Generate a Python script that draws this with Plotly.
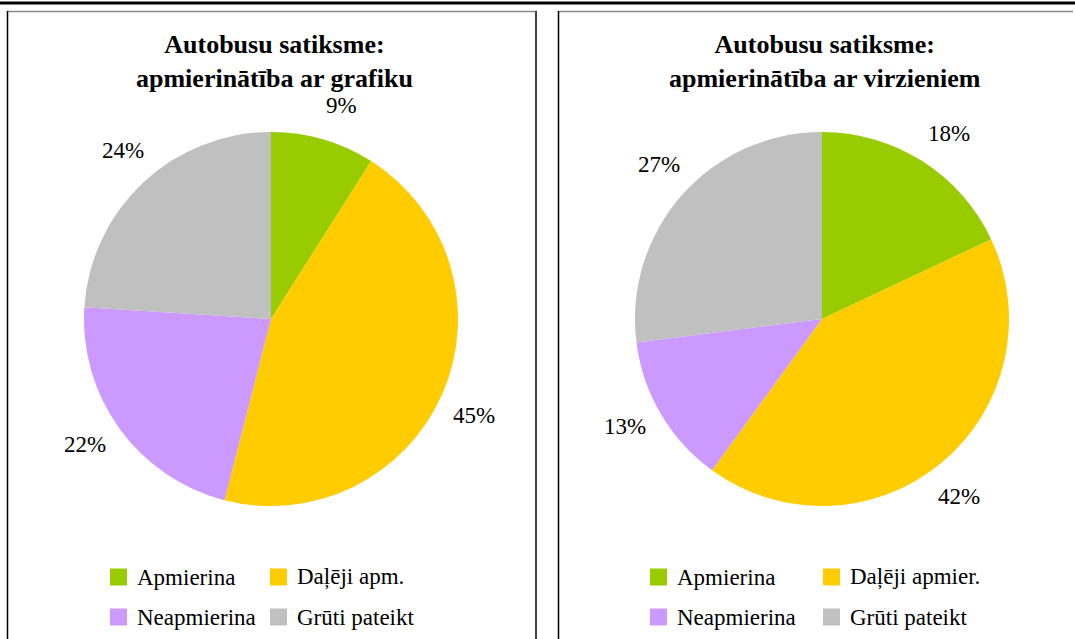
import math
import plotly.graph_objects as go

W, H = 1075, 639

categories_left = ["Apmierina", "Daļēji apm.", "Neapmierina", "Grūti pateikt"]
values_left = [9, 45, 22, 24]
categories_right = ["Apmierina", "Daļēji apmier.", "Neapmierina", "Grūti pateikt"]
values_right = [18, 42, 13, 27]
colors = ["#99CC00", "#FFCC00", "#CC99FF", "#C0C0C0"]
title_left = "Autobusu satiksme:<br>apmierinātība ar grafiku"
title_right = "Autobusu satiksme:<br>apmierinātība ar virzieniem"

SERIF = "Liberation Serif"

def px(x):
    return x / W

def py(y):
    return 1 - y / H

R = 187
panels = [
    dict(cx=271, cy=319, cats=categories_left, vals=values_left, title=title_left, tx=274,
         sq=[110, 270]),
    dict(cx=822, cy=319, cats=categories_right, vals=values_right, title=title_right, tx=825,
         sq=[650, 823]),
]

fig = go.Figure()
annotations = []
shapes = []

for p in panels:
    cx, cy = p["cx"], p["cy"]
    fig.add_trace(go.Pie(
        labels=p["cats"], values=p["vals"], sort=False, direction="clockwise", rotation=0,
        marker=dict(colors=colors, line=dict(width=0)),
        textinfo="none", hoverinfo="label+percent", showlegend=False,
        domain=dict(x=[px(cx - R), px(cx + R)], y=[py(cy + R), py(cy - R)]),
    ))
    total = sum(p["vals"])
    cum = 0
    for v in p["vals"]:
        mid = (cum + v / 2) / total * 2 * math.pi + math.radians(2)
        cum += v
        d = 1.2 * R
        lx = cx + d * math.sin(mid)
        ly = cy - d * math.cos(mid)
        annotations.append(dict(
            x=px(lx), y=py(ly), xref="paper", yref="paper", showarrow=False,
            text=f"{round(v / total * 100)}%", xanchor="center", yanchor="middle",
            font=dict(family=SERIF, size=23, color="black"),
        ))
    annotations.append(dict(
        x=px(p["tx"]), y=py(61), xref="paper", yref="paper", showarrow=False,
        text=f"<b>{p['title']}</b>", xanchor="center", yanchor="middle",
        font=dict(family=SERIF, size=26, color="black"),
    ))
    # legend (2x2)
    rows = [577, 617]
    for i, (cat, col) in enumerate(zip(p["cats"], colors)):
        r, c = divmod(i, 2)
        sx = p["sq"][c]
        ry = rows[r]
        shapes.append(dict(type="rect", xref="paper", yref="paper",
                           x0=px(sx), x1=px(sx + 17), y0=py(ry + 8.5), y1=py(ry - 8.5),
                           fillcolor=col, line=dict(width=0)))
        annotations.append(dict(
            x=px(sx + 25), y=py(ry), xref="paper", yref="paper", showarrow=False,
            text=cat, xanchor="left", yanchor="middle",
            font=dict(family=SERIF, size=23, color="black"),
        ))

# top rule
shapes.append(dict(type="line", xref="paper", yref="paper", x0=0, x1=1, y0=py(3), y1=py(3),
                   line=dict(color="black", width=3)))
# left panel frame
shapes.append(dict(type="line", xref="paper", yref="paper", x0=px(7), x1=px(537), y0=py(11.5), y1=py(11.5),
                   line=dict(color="#8c8c8c", width=1.5)))
shapes.append(dict(type="line", xref="paper", yref="paper", x0=px(7.5), x1=px(7.5), y0=py(11), y1=py(H + 5),
                   line=dict(color="black", width=1.5)))
shapes.append(dict(type="line", xref="paper", yref="paper", x0=px(536), x1=px(536), y0=py(11), y1=py(H + 5),
                   line=dict(color="#404040", width=2)))
# right panel frame
shapes.append(dict(type="line", xref="paper", yref="paper", x0=px(558), x1=px(1073), y0=py(11.5), y1=py(11.5),
                   line=dict(color="#8c8c8c", width=1.5)))
shapes.append(dict(type="line", xref="paper", yref="paper", x0=px(558.5), x1=px(558.5), y0=py(11), y1=py(H + 5),
                   line=dict(color="black", width=1.5)))

fig.update_layout(
    width=W, height=H, margin=dict(l=0, r=0, t=0, b=0),
    paper_bgcolor="white", plot_bgcolor="white",
    font=dict(family=SERIF),
    annotations=annotations, shapes=shapes, showlegend=False,
)

fig.write_html("out.html", config={"displayModeBar": False},
               post_script="document.body.style.margin='0';")
